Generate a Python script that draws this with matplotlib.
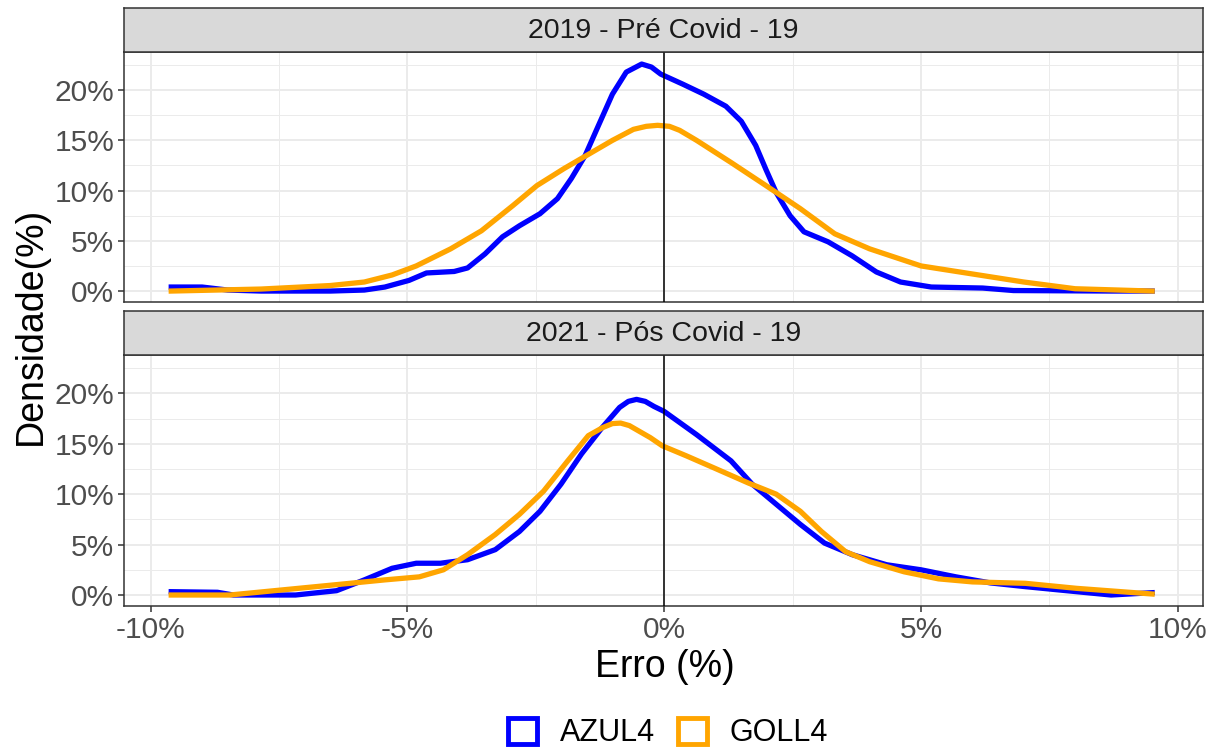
#!/usr/bin/env python3
import matplotlib
matplotlib.use("Agg")
import matplotlib.pyplot as plt
from matplotlib.patches import Patch
from matplotlib.ticker import FuncFormatter, MultipleLocator


# valores (x e y em %)
panel_titles = ["2019 - Pré Covid - 19", "2021 - Pós Covid - 19"]
series_names = ["AZUL4", "GOLL4"]

azul_2019_x = [-9.6, -9.0, -8.5, -7.85, -6.5, -5.84, -5.44, -4.97, -4.63, -4.09, -3.83, -3.49,
               -3.15, -2.82, -2.42, -2.08, -1.81, -1.54, -1.28, -1.01, -0.74, -0.44, -0.25,
               -0.07, 0.36, 0.77, 1.2, 1.5, 1.78, 1.98, 2.18, 2.45, 2.72, 3.19, 3.66, 4.13,
               4.6, 5.2, 6.2, 6.8, 8.7, 9.5]
azul_2019_y = [0.4, 0.4, 0.1, 0.0, 0.0, 0.1, 0.4, 1.06, 1.8, 1.95, 2.3, 3.7,
               5.4, 6.5, 7.7, 9.2, 11.2, 13.5, 16.5, 19.6, 21.8, 22.6, 22.3,
               21.6, 20.6, 19.6, 18.4, 16.9, 14.5, 12.1, 9.8, 7.5, 5.9, 4.9, 3.5, 1.9,
               0.9, 0.4, 0.3, 0.05, 0.0, 0.0]

goll_2019_x = [-9.6, -7.85, -6.5, -5.84, -5.3, -4.83, -4.16, -3.56, -2.95, -2.48, -1.95, -1.48,
               -1.01, -0.6, -0.35, -0.13, 0.1, 0.3, 0.63, 1.3, 1.98, 2.65, 3.32, 4.0, 5.0,
               6.0, 7.0, 8.0, 9.5]
goll_2019_y = [0.0, 0.2, 0.55, 0.9, 1.6, 2.5, 4.2, 6.0, 8.5, 10.5, 12.2, 13.6,
               15.0, 16.1, 16.4, 16.5, 16.4, 16.0, 15.0, 12.8, 10.5, 8.2, 5.7, 4.2, 2.5,
               1.7, 0.9, 0.23, 0.0]

azul_2021_x = [-9.6, -8.7, -8.39, -7.18, -6.38, -5.84, -5.3, -4.83, -4.36, -3.83, -3.29, -2.82,
               -2.42, -2.01, -1.61, -1.21, -0.87, -0.7, -0.54, -0.37, -0.2, 0.0, 0.63, 1.3,
               1.71, 2.18, 2.65, 3.12, 3.66, 4.33, 5.0, 5.68, 6.35, 7.03, 8.03, 8.7, 9.5]
azul_2021_y = [0.33, 0.27, 0.0, 0.0, 0.43, 1.5, 2.65, 3.15, 3.15, 3.5, 4.5, 6.3,
               8.3, 11.0, 14.0, 16.6, 18.6, 19.2, 19.4, 19.2, 18.7, 18.2, 15.9, 13.3,
               11.0, 9.0, 7.0, 5.15, 4.0, 3.0, 2.5, 1.8, 1.2, 0.83, 0.33, 0.0, 0.23]

goll_2021_x = [-9.6, -8.46, -7.45, -6.44, -5.44, -4.77, -4.3, -3.83, -3.29, -2.82, -2.35, -1.88,
               -1.48, -1.2, -1.01, -0.85, -0.68, -0.27, -0.04, 0.43, 0.97, 1.64, 2.18, 2.65,
               3.06, 3.53, 4.0, 4.67, 5.34, 6.0, 7.03, 8.03, 9.5]
goll_2021_y = [0.0, 0.0, 0.5, 1.0, 1.5, 1.8, 2.5, 4.0, 6.0, 8.0, 10.3, 13.3,
               15.8, 16.6, 17.0, 17.05, 16.8, 15.6, 14.8, 13.8, 12.6, 11.1, 10.0, 8.3,
               6.3, 4.3, 3.3, 2.3, 1.6, 1.3, 1.16, 0.66, 0.1]

x_ticks = [-10, -5, 0, 5, 10]
y_ticks = [0, 5, 10, 15, 20]

COLORS = {"AZUL4": "#0000FF", "GOLL4": "#FFA500"}
FIG_W, FIG_H = 1219, 751


def fx(px):
    return px / FIG_W


def fy(py):
    return 1 - py / FIG_H


def pct(v, _pos=None):
    return f"{v:g}%"


def style_panel(ax, show_x):
    ax.set_xlim(-10.52, 10.49)
    ax.set_ylim(-1.09, 23.8)
    ax.set_xticks(x_ticks)
    ax.set_yticks(y_ticks)
    ax.xaxis.set_minor_locator(MultipleLocator(2.5))
    ax.yaxis.set_minor_locator(MultipleLocator(2.5))
    ax.yaxis.set_major_formatter(FuncFormatter(pct))
    ax.xaxis.set_major_formatter(FuncFormatter(pct))
    ax.grid(which="major", color="#EBEBEB", linewidth=1.4)
    ax.grid(which="minor", color="#EBEBEB", linewidth=0.7)
    ax.set_axisbelow(True)
    for sp in ax.spines.values():
        sp.set_color("#333333")
        sp.set_linewidth(1.1)
    ax.tick_params(which="minor", length=0)
    ax.tick_params(which="major", color="#333333", length=4, width=1.1,
                   labelsize=21.5, labelcolor="#4D4D4D", pad=3)
    if not show_x:
        ax.tick_params(axis="x", which="major", length=0, labelbottom=False)


def main():
    plt.rcParams["font.family"] = ["Liberation Sans", "DejaVu Sans"]
    fig = plt.figure(figsize=(FIG_W / 100, FIG_H / 100), dpi=100)

    panels = [
        (52, 302, 8, (azul_2019_x, azul_2019_y), (goll_2019_x, goll_2019_y)),
        (355, 606, 311, (azul_2021_x, azul_2021_y), (goll_2021_x, goll_2021_y)),
    ]
    left, right = 124, 1203
    for i, (top, bottom, strip_top, azul, goll) in enumerate(panels):
        ax = fig.add_axes([fx(left), fy(bottom), fx(right - left), (bottom - top) / FIG_H])
        style_panel(ax, show_x=(i == 1))
        ax.plot(azul[0], azul[1], color=COLORS["AZUL4"], linewidth=3.8,
                solid_joinstyle="round", zorder=3)
        ax.plot(goll[0], goll[1], color=COLORS["GOLL4"], linewidth=3.8,
                solid_joinstyle="round", zorder=4)
        ax.axvline(0, color="black", linewidth=1.1, zorder=5)

        strip = fig.add_axes([fx(left), fy(top), fx(right - left), (top - strip_top) / FIG_H])
        strip.set_facecolor("#D9D9D9")
        strip.set_xticks([])
        strip.set_yticks([])
        for sp in strip.spines.values():
            sp.set_color("#333333")
            sp.set_linewidth(1.1)
        strip.text(0.5, 0.47, panel_titles[i], ha="center", va="center",
                   fontsize=20.5, color="#1A1A1A", transform=strip.transAxes)

    fig.text(fx(31), fy(326), "Densidade(%)", rotation=90, ha="center", va="center",
             fontsize=27, color="black")
    fig.text(fx(665), fy(667), "Erro (%)", ha="center", va="center",
             fontsize=27, color="black")

    handles = [Patch(facecolor="none", edgecolor=COLORS[name], linewidth=3.5, label=name)
               for name in series_names]
    fig.legend(handles=handles, loc="center", bbox_to_anchor=(fx(668), fy(733)),
               ncol=2, frameon=False, fontsize=22, handlelength=0.95, handleheight=0.95,
               handletextpad=0.75, columnspacing=0.75, borderpad=0.2)

    fig.savefig("out.png", dpi=100)
    plt.close(fig)


if __name__ == "__main__":
    main()
